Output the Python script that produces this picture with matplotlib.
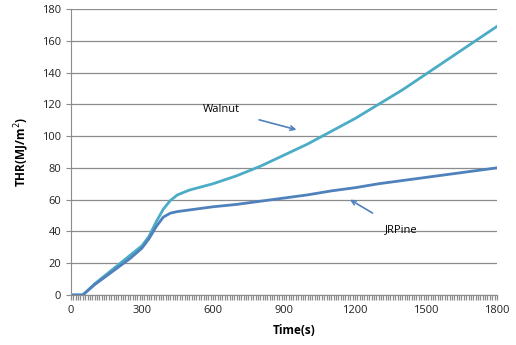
import matplotlib.pyplot as plt
from matplotlib.ticker import MultipleLocator

# time (s) and total heat release (MJ/m2)
time = [0, 50, 100, 150, 200, 250, 300, 330, 360, 390, 420, 450, 500,
        600, 700, 800, 900, 1000, 1100, 1200, 1300, 1400, 1500, 1600, 1700, 1800]
walnut = [0, 0, 7, 13, 19, 25, 31, 37, 46, 54, 59.5, 63, 66,
          70, 75, 81, 88, 95, 103, 111, 120, 129, 139, 149, 159, 169]
jrpine = [0, 0, 6.5, 12, 17.5, 23, 29.5, 35.5, 43, 49, 51.5, 52.5, 53.5,
          55.5, 57, 59, 61, 63, 65.5, 67.5, 70, 72, 74, 76, 78, 80]

plt.rcParams['font.family'] = ['Open Sans', 'DejaVu Sans']

fig = plt.figure(figsize=(5.16, 3.45), dpi=100)
ax = fig.add_axes([0.1376, 0.145, 0.8254, 0.829])

ax.plot(time, walnut, color='#4BACC6', lw=2.0, label='Walnut')
ax.plot(time, jrpine, color='#4F81BD', lw=2.0, label='JRPine')

ax.set_xlim(0, 1800)
ax.set_ylim(0, 180)
ax.xaxis.set_major_locator(MultipleLocator(300))
ax.xaxis.set_minor_locator(MultipleLocator(10))
ax.yaxis.set_major_locator(MultipleLocator(20))
ax.grid(axis='y', color='#8c8c8c', lw=0.9)
ax.set_axisbelow(True)

for s in ['top', 'right']:
    ax.spines[s].set_visible(False)
for s in ['left', 'bottom']:
    ax.spines[s].set_color('#8c8c8c')
ax.tick_params(axis='both', which='major', labelsize=8, colors='#8c8c8c',
               labelcolor='#222222', length=3.5)
ax.tick_params(axis='x', which='minor', colors='#8c8c8c', length=3.5, width=0.9)
ax.tick_params(axis='x', which='major', width=0.9)

ax.set_xlabel('Time(s)', fontsize=8.5, fontweight='bold', labelpad=7)
ax.xaxis.set_label_coords(0.525, -0.1)
ax.set_ylabel('THR(MJ/m$^2$)', fontsize=8.5, fontweight='bold', labelpad=8)

ax.annotate('Walnut', xy=(953, 104), xytext=(637, 116.5), fontsize=8,
            ha='center', va='center',
            arrowprops=dict(arrowstyle='->', color='#4F81BD', lw=1.2,
                            shrinkA=12, shrinkB=0))
ax.annotate('JRPine', xy=(1179, 60), xytext=(1394, 41), fontsize=8,
            ha='center', va='center',
            arrowprops=dict(arrowstyle='->', color='#4F81BD', lw=1.2,
                            shrinkA=12, shrinkB=0))

plt.savefig('out.png', dpi=100)
